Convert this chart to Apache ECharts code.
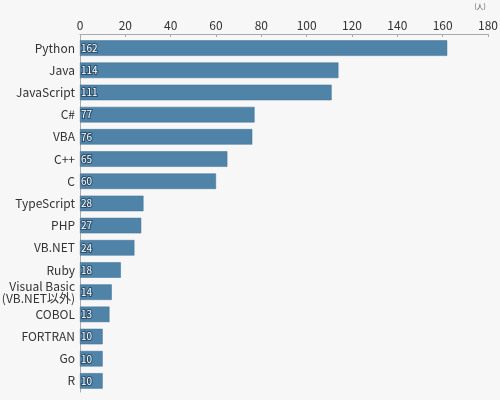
<!DOCTYPE html>
<html lang="ja">
<head>
    <meta charset="UTF-8">
    <title>言語別人数</title>
    <style>
        html, body { margin: 0; padding: 0; background: #f7f7f7; }
        #chart { width: 500px; height: 400px; }
    </style>
</head>
<body>
    <div id="chart"></div>
    <script src="https://cdn.jsdelivr.net/npm/echarts@6/dist/echarts.min.js"></script>
    <script>
    // 言語名（上から順）
    var langs = ['Python', 'Java', 'JavaScript', 'C#', 'VBA', 'C++', 'C', 'TypeScript',
        'PHP', 'VB.NET', 'Ruby', 'Visual Basic\n(VB.NET以外)', 'COBOL', 'FORTRAN', 'Go', 'R'];
    // 人数
    var counts = [162, 114, 111, 77, 76, 65, 60, 28, 27, 24, 18, 14, 13, 10, 10, 10];
    var xTicks = { min: 0, max: 180, interval: 20 };

    var chart = echarts.init(document.getElementById('chart'));
    chart.setOption({
        backgroundColor: '#f7f7f7',
        textStyle: { fontFamily: 'Noto Sans CJK JP' },
        grid: { left: 80, right: 12, top: 37, bottom: 8, containLabel: false, outerBoundsMode: 'none' },
        xAxis: {
            type: 'value',
            position: 'top',
            min: xTicks.min, max: xTicks.max, interval: xTicks.interval,
            offset: 3,
            name: '(人)',
            nameLocation: 'end',
            nameGap: -8,
            nameTextStyle: { fontSize: 7, color: '#555', align: 'center', verticalAlign: 'bottom', padding: [0, 0, 24, 0] },
            axisLine: { show: true, lineStyle: { color: '#aaa' } },
            axisTick: { show: true, length: 3, inside: true, lineStyle: { color: '#aaa' } },
            axisLabel: { fontSize: 12, color: '#333', margin: 3 },
            splitLine: { show: false }
        },
        yAxis: {
            type: 'category',
            data: langs,
            inverse: true,
            axisLine: { show: true, lineStyle: { color: '#aaa' } },
            axisTick: { show: false },
            axisLabel: { fontSize: 12, color: '#333', margin: 5, lineHeight: 12 }
        },
        series: [{
            type: 'bar',
            data: counts,
            barCategoryGap: '30%',
            itemStyle: { color: '#4f84a8', borderColor: '#3f6f92', borderWidth: 0.5 },
            label: {
                show: true,
                position: 'insideLeft',
                distance: 1,
                fontSize: 10,
                color: '#fff',
                textBorderColor: '#2c4f6b',
                textBorderWidth: 2
            }
        }]
    });
    </script>
</body>
</html>
